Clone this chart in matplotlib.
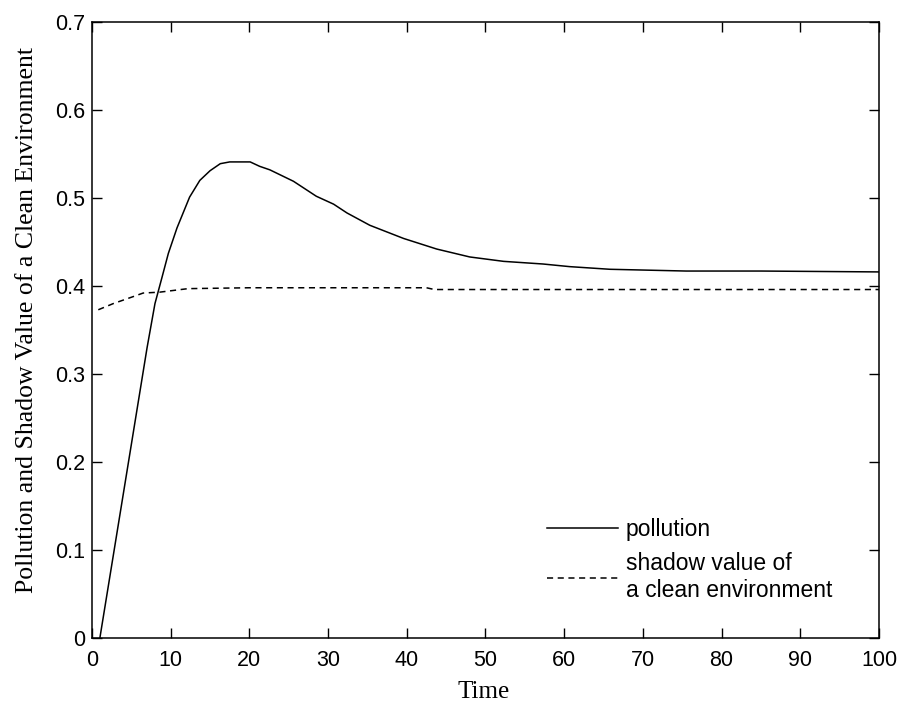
import matplotlib
matplotlib.use("Agg")
import matplotlib.pyplot as plt

# Data
pollution_t = [1.0, 2.0, 3.0, 4.0, 5.0, 6.0, 7.0, 8.0, 8.9, 9.7, 10.8, 12.4, 13.7, 15.0, 16.3,
               17.5, 20.1, 21.3, 22.6, 25.6, 28.5, 30.7, 32.4, 35.3, 39.6, 43.8, 48.0, 52.3,
               57.3, 60.7, 65.8, 75.5, 85.0, 100.0]
pollution = [0.0, 0.055, 0.110, 0.165, 0.220, 0.275, 0.330, 0.380, 0.410, 0.437, 0.466,
             0.501, 0.520, 0.531, 0.539, 0.541, 0.541, 0.536, 0.532, 0.519, 0.502, 0.493,
             0.483, 0.469, 0.454, 0.442, 0.433, 0.428, 0.425, 0.422, 0.419, 0.417, 0.417,
             0.416]

shadow_t = [0.8, 2.7, 5.25, 6.5, 8.6, 12.2, 20, 42.5, 43.5, 60, 80, 100]
shadow = [0.373, 0.380, 0.388, 0.392, 0.393, 0.397, 0.398, 0.398, 0.396, 0.396, 0.396, 0.396]

x_ticks = [0, 10, 20, 30, 40, 50, 60, 70, 80, 90, 100]
y_ticks = [0, 0.1, 0.2, 0.3, 0.4, 0.5, 0.6, 0.7]
y_tick_labels = ["0", "0.1", "0.2", "0.3", "0.4", "0.5", "0.6", "0.7"]

fig = plt.figure(figsize=(9.04, 7.04), dpi=100)
ax = fig.add_axes([92 / 904, (704 - 638) / 704, 787 / 904, 616 / 704])

ax.plot(pollution_t, pollution, color="black", lw=1.1, label="pollution")
ax.plot(shadow_t, shadow, color="black", lw=1.1, dashes=(4, 3),
        label="shadow value of\na clean environment")

ax.set_xlim(0, 100)
ax.set_ylim(0, 0.7)
ax.set_xticks(x_ticks)
ax.set_xticklabels([str(v) for v in x_ticks])
ax.set_yticks(y_ticks)
ax.set_yticklabels(y_tick_labels)

tick_font = "Liberation Sans"
for lab in ax.get_xticklabels() + ax.get_yticklabels():
    lab.set_fontfamily(tick_font)
    lab.set_fontsize(15.5)
ax.tick_params(direction="in", length=7, width=1, top=True, right=True,
               colors="black")
ax.tick_params(axis="x", pad=9)
ax.tick_params(axis="y", pad=5)
for s in ax.spines.values():
    s.set_linewidth(1.1)

ax.set_xlabel("Time", family="Liberation Serif", fontsize=18)
ax.xaxis.set_label_coords(0.497, -0.07)
ax.set_ylabel("Pollution and Shadow Value of a Clean Environment",
              family="Liberation Serif", fontsize=18.5)
ax.yaxis.set_label_coords(-0.068, 0.516)

leg = ax.legend(loc="upper left", bbox_to_anchor=(0.578, 0.195), frameon=False,
                prop={"family": tick_font, "size": 16.5}, handlelength=3.1,
                handletextpad=0.35, labelspacing=0.5, borderpad=0, borderaxespad=0)

fig.savefig("out.png", dpi=100)
